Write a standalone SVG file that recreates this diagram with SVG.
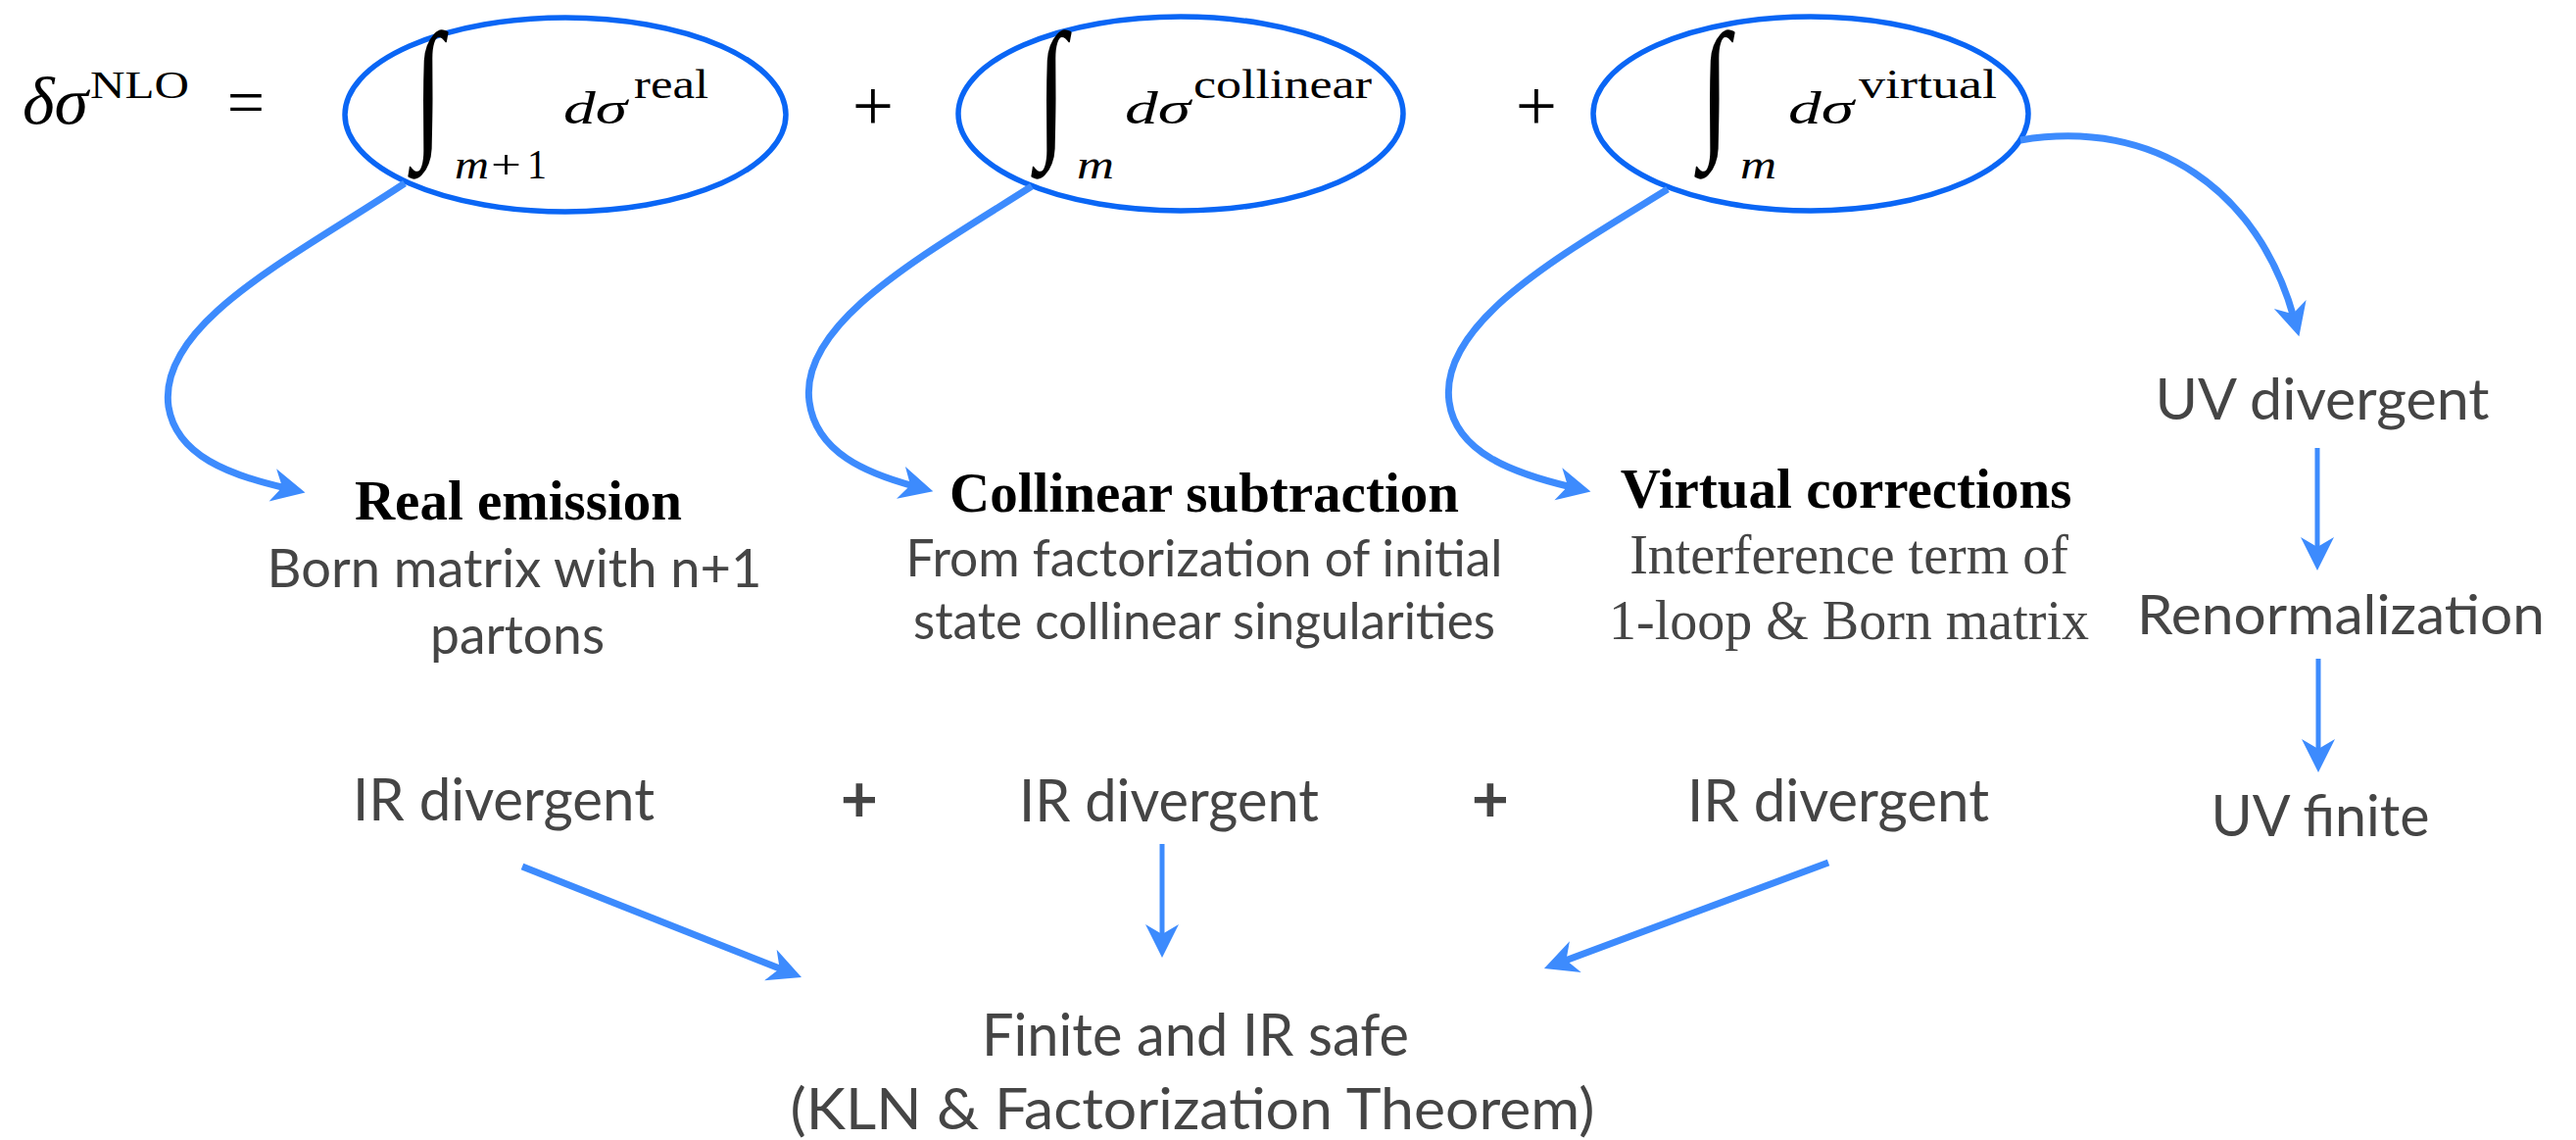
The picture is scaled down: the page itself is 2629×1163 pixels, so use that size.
<svg xmlns="http://www.w3.org/2000/svg" width="2629" height="1163" viewBox="0 0 2629 1163">
<style>
.m{font-family:"Liberation Serif",serif;fill:#000}
.it{font-style:italic}
.int{font-family:"Liberation Serif",serif;fill:#000;font-size:155px}
.ell{fill:none;stroke:#0a66f5;stroke-width:5.5}
.c{fill:none;stroke:#3d8bfd;stroke-width:7}
.cv{fill:none;stroke:#3d8bfd;stroke-width:5}
.gs{font-family:Lato,"Noto Sans",sans-serif;fill:#454545;text-anchor:middle}
.b{font-family:"Liberation Serif",serif;font-weight:bold;fill:#000;text-anchor:middle;font-size:57px}
.sr{font-family:"Liberation Serif",serif;fill:#454545;text-anchor:middle;font-size:56px}
</style>
<defs>
<marker id="ah" markerUnits="userSpaceOnUse" viewBox="-16 -18 38 36" refX="0" refY="0" markerWidth="38" markerHeight="36" orient="auto">
<path d="M20,0 L-14,-17 L-4,0 L-14,17 Z" fill="#3d8bfd"/>
</marker>
</defs>
<rect width="2629" height="1163" fill="#fff"/>

<g id="lhs">
<text class="m it" x="23" y="126" font-size="68" textLength="67" lengthAdjust="spacingAndGlyphs">δσ</text>
<text class="m" x="92" y="100" font-size="41" textLength="101" lengthAdjust="spacingAndGlyphs">NLO</text>
<text class="m" x="251" y="127" font-size="68" text-anchor="middle">=</text>
</g>

<g id="term-real">
<ellipse class="ell" cx="577" cy="117" rx="225" ry="99"/>
<text class="int" x="422" y="141" textLength="30" lengthAdjust="spacingAndGlyphs">∫</text>
<text class="m it" x="464" y="182" font-size="42" textLength="35" lengthAdjust="spacingAndGlyphs">m</text>
<text class="m" x="501" y="182" font-size="42" textLength="31" lengthAdjust="spacingAndGlyphs">+</text>
<text class="m" x="538" y="182" font-size="42" textLength="20" lengthAdjust="spacingAndGlyphs">1</text>
<text class="m it" x="575" y="126" font-size="46" textLength="65" lengthAdjust="spacingAndGlyphs">dσ</text>
<text class="m" x="647" y="100" font-size="42" textLength="76" lengthAdjust="spacingAndGlyphs">real</text>
</g>

<text id="plus1" class="m" x="891" y="133" font-size="75" text-anchor="middle">+</text>

<g id="term-collinear">
<ellipse class="ell" cx="1205" cy="116" rx="227" ry="99"/>
<text class="int" x="1058" y="141" textLength="30" lengthAdjust="spacingAndGlyphs">∫</text>
<text class="m it" x="1099" y="182" font-size="42" textLength="38" lengthAdjust="spacingAndGlyphs">m</text>
<text class="m it" x="1148" y="126" font-size="46" textLength="67" lengthAdjust="spacingAndGlyphs">dσ</text>
<text class="m" x="1218" y="100" font-size="42" textLength="182" lengthAdjust="spacingAndGlyphs">collinear</text>
</g>

<text id="plus2" class="m" x="1568" y="133" font-size="75" text-anchor="middle">+</text>

<g id="term-virtual">
<ellipse class="ell" cx="1848" cy="116" rx="222" ry="99"/>
<text class="int" x="1735" y="141" textLength="30" lengthAdjust="spacingAndGlyphs">∫</text>
<text class="m it" x="1776" y="182" font-size="42" textLength="37" lengthAdjust="spacingAndGlyphs">m</text>
<text class="m it" x="1825" y="126" font-size="46" textLength="67" lengthAdjust="spacingAndGlyphs">dσ</text>
<text class="m" x="1897" y="100" font-size="42" textLength="141" lengthAdjust="spacingAndGlyphs">virtual</text>
</g>

<g id="real-emission">
<text class="b" x="529" y="530">Real emission</text>
<text class="gs" x="525" y="599" font-size="54" textLength="505" lengthAdjust="spacingAndGlyphs">Born matrix with n+1</text>
<text class="gs" x="528" y="667" font-size="54" textLength="178" lengthAdjust="spacingAndGlyphs">partons</text>
</g>

<g id="collinear-subtraction">
<text class="b" x="1229" y="522">Collinear subtraction</text>
<text class="gs" x="1229" y="588" font-size="52" textLength="609" lengthAdjust="spacingAndGlyphs">From factorization of initial</text>
<text class="gs" x="1229" y="652" font-size="52" textLength="594" lengthAdjust="spacingAndGlyphs">state collinear singularities</text>
</g>

<g id="virtual-corrections">
<text class="b" x="1884" y="518">Virtual corrections</text>
<text class="sr" x="1887" y="585">Interference term of</text>
<text class="sr" x="1887" y="652">1-loop &amp; Born matrix</text>
</g>

<g id="uv-divergent"><text class="gs" x="2370" y="428" font-size="59" textLength="341" lengthAdjust="spacingAndGlyphs">UV divergent</text></g>
<g id="renormalization"><text class="gs" x="2389" y="647" font-size="57" textLength="416" lengthAdjust="spacingAndGlyphs">Renormalization</text></g>
<g id="uv-finite"><text class="gs" x="2368" y="853" font-size="59" textLength="223" lengthAdjust="spacingAndGlyphs">UV finite</text></g>

<g id="ir-1"><text class="gs" x="514" y="837" font-size="60" textLength="308" lengthAdjust="spacingAndGlyphs">IR divergent</text></g>
<text id="plus3" class="gs" x="877" y="839" font-size="66" font-weight="bold">+</text>
<g id="ir-2"><text class="gs" x="1193" y="838" font-size="60" textLength="306" lengthAdjust="spacingAndGlyphs">IR divergent</text></g>
<text id="plus4" class="gs" x="1521" y="839" font-size="66" font-weight="bold">+</text>
<g id="ir-3"><text class="gs" x="1876" y="838" font-size="60" textLength="308" lengthAdjust="spacingAndGlyphs">IR divergent</text></g>

<g id="finite">
<text class="gs" x="1220" y="1077" font-size="60" textLength="436" lengthAdjust="spacingAndGlyphs">Finite and IR safe</text>
<text class="gs" x="1217" y="1152" font-size="59" textLength="821" lengthAdjust="spacingAndGlyphs">(KLN &amp; Factorization Theorem)</text>
</g>

<g id="connectors">
<path class="c" d="M413,187 C300,262 160,330 172,415 C180,465 235,485 292,498" marker-end="url(#ah)"/>
<path class="c" d="M1053,190 C940,262 815,330 826,410 C833,462 885,483 933,496" marker-end="url(#ah)"/>
<path class="c" d="M1702,193 C1590,262 1468,330 1479,410 C1486,462 1545,483 1604,497" marker-end="url(#ah)"/>
<path class="c" d="M2062,143 C2200,120 2305,195 2341,324" marker-end="url(#ah)"/>
<path class="cv" d="M2365,457 L2365,562" marker-end="url(#ah)"/>
<path class="cv" d="M2366,672 L2366,768" marker-end="url(#ah)"/>
<path class="cv" d="M1186,861 L1186,957" marker-end="url(#ah)"/>
<path class="c" d="M533,884 L799.4,989.6" marker-end="url(#ah)"/>
<path class="c" d="M1866,880 L1594.7,981" marker-end="url(#ah)"/>
</g>
</svg>
